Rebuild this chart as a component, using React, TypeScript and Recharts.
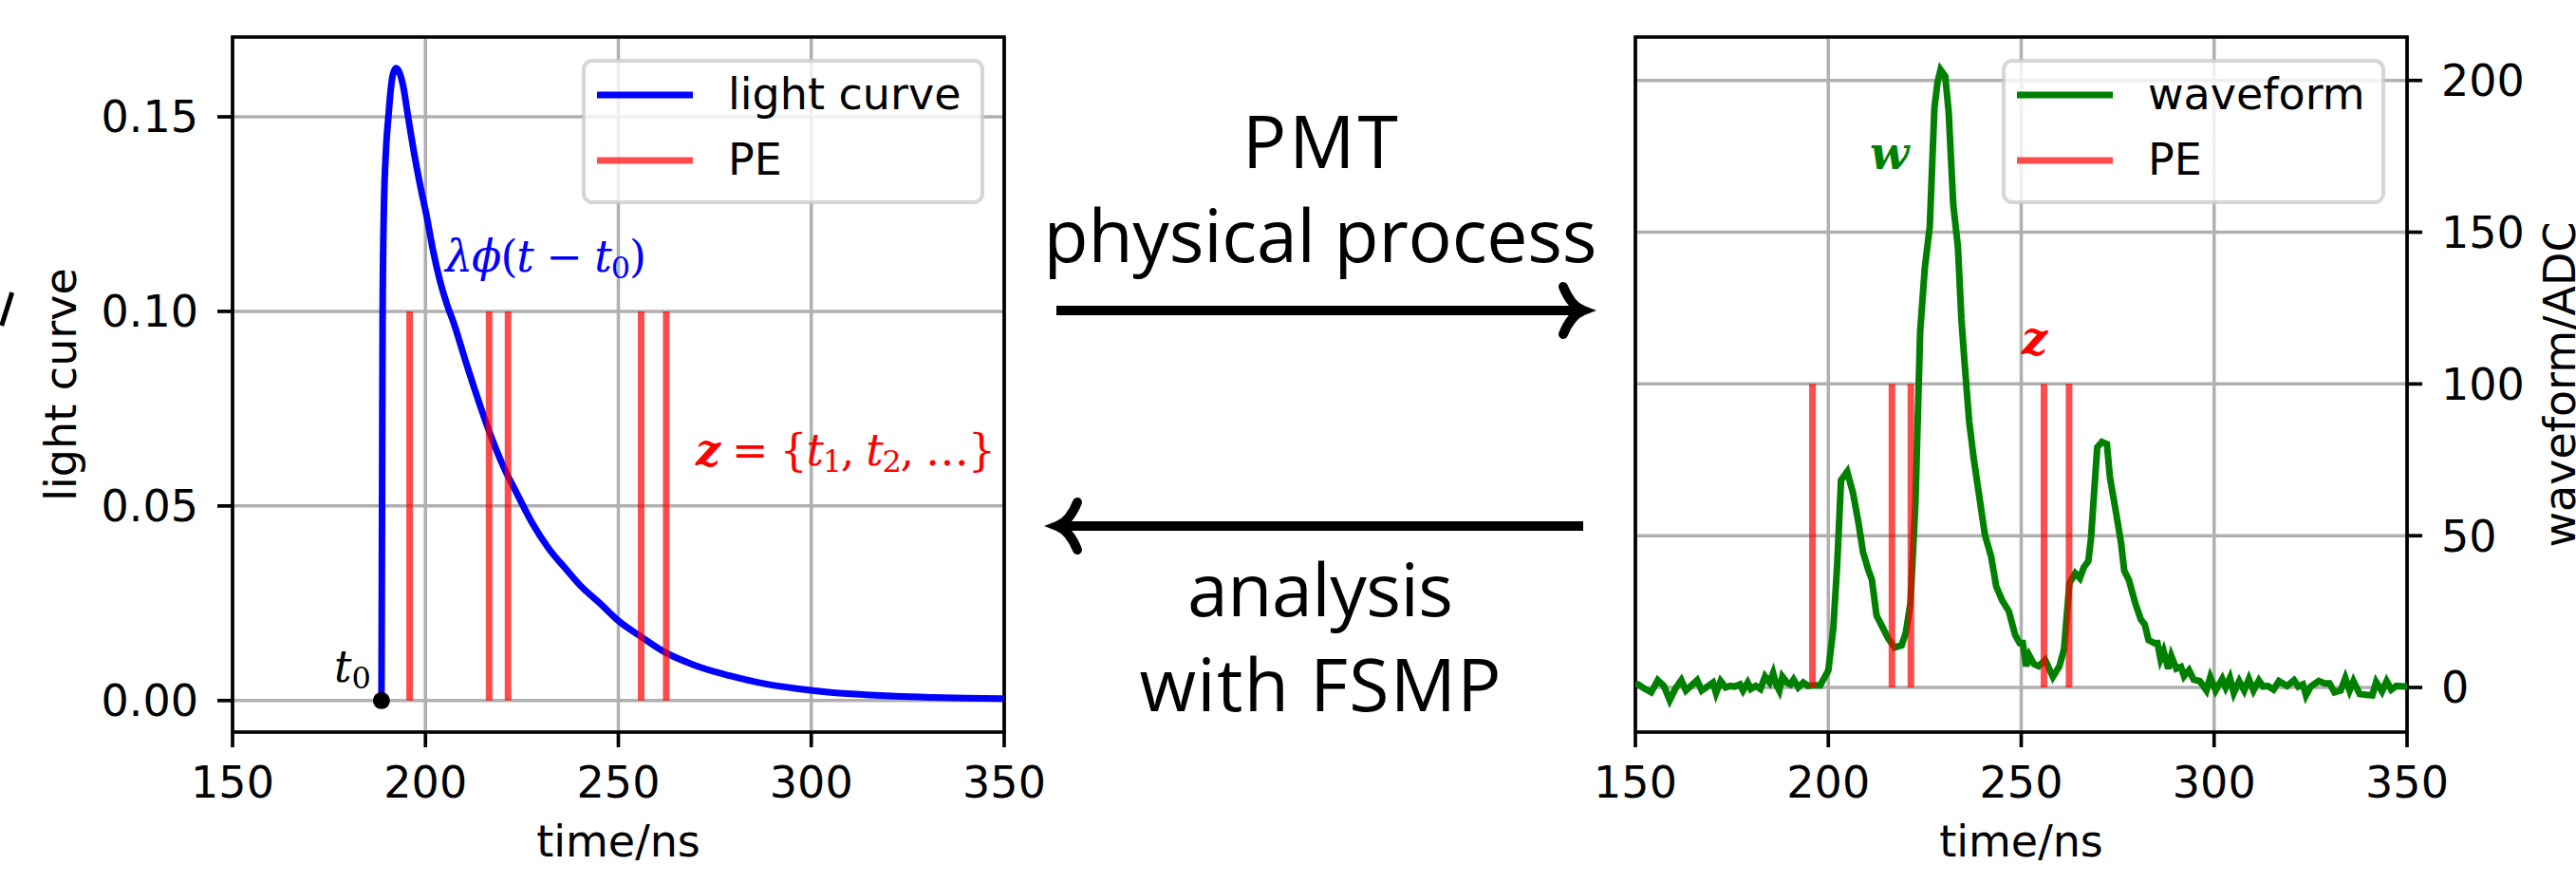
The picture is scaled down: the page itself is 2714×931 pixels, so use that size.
import React from 'react';
import {
  ComposedChart,
  Line,
  XAxis,
  YAxis,
  CartesianGrid,
  Legend,
  ReferenceArea,
  ReferenceDot,
} from 'recharts';

const timeTicks = [150, 200, 250, 300, 350];
const lightTicks = [0, 0.05, 0.1, 0.15];
const adcTicks = [0, 50, 100, 150, 200];

// PE arrival times (ns), shared by both panels
const peTimes = [195.9, 216.5, 221.4, 255.9, 262.4];
const t0 = 188.6;

// light curve
const lightT = [
  188.6, 188.75, 188.9, 189.2, 189.8, 190.4, 191.0, 191.6, 192.4, 193.2,
  194.2, 195.5, 197.0, 198.5, 200.4, 202.0, 203.8, 205.5, 207.3, 210.6,
  214.1, 217.0, 220.4, 223.5, 227.8, 232.0, 236.4, 240.5, 245.1, 250.0,
  255.9, 262.3, 270.0, 279.6, 288.0, 296.8, 305.0, 314.1, 322.0, 331.4,
  340.0, 350.0,
];
const lightV = [
  0, 0.05, 0.1, 0.125, 0.142, 0.15, 0.157, 0.161, 0.1625, 0.1615,
  0.158, 0.15, 0.141, 0.133, 0.124, 0.1155, 0.1077, 0.102, 0.0971, 0.0866,
  0.076, 0.0679, 0.0597, 0.0536, 0.0454, 0.039, 0.0338, 0.0292, 0.0251, 0.0205,
  0.0164, 0.0123, 0.009, 0.0062, 0.0043, 0.003, 0.0021, 0.0015, 0.0011, 0.0008,
  0.0006, 0.0005,
];

// waveform (ADC)
const waveT = [
  150.0, 150.7, 152.5, 154.1, 155.8, 157.4, 158.9, 160.3, 161.9, 163.1,
  164.4, 166.0, 167.2, 168.9, 170.1, 170.9, 172.1, 173.4, 174.6, 175.8,
  177.1, 177.9, 179.1, 179.9, 181.2, 182.4, 183.6, 184.8, 185.7, 186.5,
  187.3, 188.1, 189.3, 190.2, 191.0, 192.2, 193.5, 194.7, 195.9, 197.9,
  200.0, 201.3, 202.3, 203.3, 204.9, 206.4, 207.8, 209.0, 210.3, 211.3,
  212.5, 213.9, 215.6, 217.2, 219.0, 220.1, 221.3, 222.6, 223.8, 225.0,
  226.3, 227.5, 228.3, 229.1, 230.3, 231.2, 232.4, 233.6, 234.5, 235.3,
  236.5, 237.7, 239.0, 240.6, 242.2, 243.5, 245.1, 246.8, 248.4, 249.6,
  250.4, 251.3, 252.1, 253.3, 254.5, 256.2, 258.2, 259.9, 261.1, 262.5,
  264.0, 265.2, 266.2, 267.4, 268.1, 269.7, 270.9, 272.2, 273.0, 274.7,
  275.9, 276.7, 277.9, 279.6, 281.0, 282.0, 283.0, 284.5, 285.3, 286.1,
  286.9, 288.1, 288.9, 290.2, 291.4, 292.2, 293.5, 294.7, 296.3, 298.0,
  299.0, 300.4, 302.1, 303.0, 304.1, 305.1, 306.5, 307.8, 309.0, 310.2,
  311.6, 312.7, 313.9, 315.4, 316.8, 318.9, 320.7, 321.8, 323.0, 323.8,
  325.0, 327.1, 328.7, 329.9, 331.2, 332.8, 334.0, 335.1, 336.1, 337.7,
  339.4, 341.0, 342.0, 343.5, 344.7, 345.9, 347.2, 349.6, 350.0,
];
const waveV = [
  1.2, 1.0, -0.5, -1.6, 2.4, 0.5, -4.2, -0.5, 2.4, -1.0,
  0.5, 2.4, -1.0, 0.5, 1.6, -1.9, 2.1, 0, 0.5, 0.3,
  1.0, -1.0, 1.6, -0.5, 0.5, -0.5, 3.6, 1.6, 4.7, 1.0,
  -1.0, 3.6, 1.6, 1.0, 2.6, 0, 1.6, 0.5, 0.7, 0.7,
  5.6, 19.5, 40.4, 68.3, 71.1, 64.1, 54.4, 44.6, 39.0, 35.5,
  23.7, 20.2, 16.0, 13.2, 13.9, 18.1, 27.9, 61.3, 117.1, 138.0,
  151.9, 190.9, 199.3, 203.5, 201.4, 189.6, 158.9, 145.0, 121.3, 107.3,
  87.8, 75.3, 64.1, 50.2, 43.2, 33.4, 28.6, 25.1, 17.4, 14.6,
  14.6, 7.0, 10.5, 7.7, 7.0, 9.1, 3.5, 7.0, 12.6, 34.3,
  37.6, 36.0, 39.5, 41.6, 49.4, 79.1, 80.9, 80.2, 69.2, 56.7,
  47.4, 38.5, 35.4, 27.6, 22.4, 20.8, 15.6, 14.6, 14.6, 9.4,
  12.0, 6.2, 10.4, 6.2, 6.8, 3.7, 5.7, 2.6, 2.1, -1.0,
  3.4, -1.0, 2.8, 0, 3.1, -1.8, 2.1, -1.0, 2.8, -1.0,
  2.3, 0.3, 0.5, -0.7, 2.1, 0.5, 2.4, 0.3, 1.0, -2.6,
  0.3, 2.1, 1.3, 1.3, -1.6, -1.0, 3.1, -1.0, 2.1, -2.1,
  -2.4, -2.6, 1.8, -1.3, 2.1, -0.7, 0.5, 0.3, 0.3,
];

const lightDomain: [number, number] = [-0.0081, 0.1705];
const adcDomain: [number, number] = [-14.7, 214.3];

const lightRows = lightT.map((t, i) => ({ t, v: lightV[i] }));
const waveRows = waveT.map((t, i) => ({ t, v: waveV[i] }));
// each PE is a vertical stick from 0 to `top`; nulls break the path
const peRows = (top: number) =>
  peTimes.flatMap((t) => [{ t, v: 0 }, { t, v: top }, { t, v: null }]);

const INK = '#000';
const GRID = '#b0b0b0';
const FONT = 46;
const SPINE = 3.7;

const tickLine = { stroke: INK, strokeWidth: SPINE };
const tickText = { fill: INK, fontSize: FONT };

function sideLabel(text: string, baseX: number) {
  return (props: any) => {
    const vb = props.viewBox || {};
    const cy = (vb.y ?? 39) + (vb.height ?? 732) / 2;
    return (
      <text
        x={baseX}
        y={cy}
        transform={`rotate(-90 ${baseX} ${cy})`}
        textAnchor="middle"
        fontSize={FONT}
        fill={INK}
      >
        {text}
      </text>
    );
  };
}

function boxLegend(width: number) {
  return (props: any) => {
    const seen = new Set<string>();
    const items = (props.payload || [])
      .filter((e: any) => {
        if (e.type === 'none' || seen.has(e.value)) return false;
        seen.add(e.value);
        return true;
      })
      // matplotlib keeps plotting order: the curve first, PE after it
      .sort((a: any, b: any) => (a.value === 'PE' ? 1 : 0) - (b.value === 'PE' ? 1 : 0));
    return (
      <svg width={width} height={153} style={{ display: 'block' }}>
        <rect
          x={2}
          y={2}
          width={width - 4}
          height={149}
          rx={9}
          fill="#fff"
          fillOpacity={0.8}
          stroke="#cccccc"
          strokeOpacity={0.8}
          strokeWidth={4}
        />
        {items.map((e: any, i: number) => (
          <g key={e.value}>
            <line
              x1={16}
              x2={117}
              y1={38 + i * 69}
              y2={38 + i * 69}
              stroke={e.color}
              strokeOpacity={e.value === 'PE' ? 0.7 : 1}
              strokeWidth={7}
            />
            <text x={154} y={53 + i * 69} fontSize={FONT} fill={INK}>
              {e.value}
            </text>
          </g>
        ))}
      </svg>
    );
  };
}

function LightPanel() {
  return (
    <ComposedChart width={1120} height={931} margin={{ top: 39, right: 62, bottom: 0, left: 0 }}>
      <CartesianGrid stroke={GRID} strokeWidth={3.5} />
      <XAxis
        type="number"
        dataKey="t"
        domain={[150, 350]}
        ticks={timeTicks}
        interval={0}
        allowDataOverflow
        height={160}
        axisLine={false}
        tickSize={16}
        tickMargin={20}
        tickLine={tickLine}
        tick={tickText}
        label={{ value: 'time/ns', position: 'insideBottom', offset: 29, fill: INK, fontSize: FONT }}
      />
      <YAxis
        type="number"
        domain={lightDomain}
        ticks={lightTicks}
        interval={0}
        allowDataOverflow
        width={245}
        axisLine={false}
        tickSize={16}
        tickMargin={20}
        tickLine={tickLine}
        tick={tickText}
        tickFormatter={(v: number) => v.toFixed(2)}
        label={{ content: sideLabel('light curve', 80) }}
      />
      <Line
        data={lightRows}
        dataKey="v"
        name="light curve"
        type="monotone"
        stroke="#0000ff"
        strokeWidth={7}
        dot={false}
        activeDot={false}
        isAnimationActive={false}
      />
      <Line
        data={peRows(0.1)}
        dataKey="v"
        name="PE"
        stroke="#ff0000"
        strokeOpacity={0.7}
        strokeWidth={7}
        dot={false}
        activeDot={false}
        isAnimationActive={false}
      />
      <ReferenceDot x={t0} y={0} r={9} fill={INK} stroke="none" ifOverflow="visible" />
      <ReferenceArea
        x1={150}
        x2={350}
        y1={lightDomain[0]}
        y2={lightDomain[1]}
        fill="none"
        stroke={INK}
        strokeWidth={SPINE}
        ifOverflow="visible"
      />
      <Legend
        layout="horizontal"
        verticalAlign="middle"
        align="center"
        content={boxLegend(424)}
        wrapperStyle={{ left: 613, top: 62, width: 424, height: 153 }}
      />
    </ComposedChart>
  );
}

function WavePanel() {
  return (
    <ComposedChart width={1064} height={931} margin={{ top: 39, right: 0, bottom: 0, left: 73 }}>
      <CartesianGrid stroke={GRID} strokeWidth={3.5} />
      <XAxis
        type="number"
        dataKey="t"
        domain={[150, 350]}
        ticks={timeTicks}
        interval={0}
        allowDataOverflow
        height={160}
        axisLine={false}
        tickSize={16}
        tickMargin={20}
        tickLine={tickLine}
        tick={tickText}
        label={{ value: 'time/ns', position: 'insideBottom', offset: 29, fill: INK, fontSize: FONT }}
      />
      <YAxis
        type="number"
        orientation="right"
        domain={adcDomain}
        ticks={adcTicks}
        interval={0}
        allowDataOverflow
        width={178}
        axisLine={false}
        tickSize={16}
        tickMargin={20}
        tickLine={tickLine}
        tick={tickText}
        label={{ content: sideLabel('waveform/ADC', 1063) }}
      />
      <Line
        data={waveRows}
        dataKey="v"
        name="waveform"
        stroke="#008000"
        strokeWidth={7}
        dot={false}
        activeDot={false}
        isAnimationActive={false}
      />
      <Line
        data={peRows(100)}
        dataKey="v"
        name="PE"
        stroke="#ff0000"
        strokeOpacity={0.7}
        strokeWidth={7}
        dot={false}
        activeDot={false}
        isAnimationActive={false}
      />
      <ReferenceArea
        x1={150}
        x2={350}
        y1={adcDomain[0]}
        y2={adcDomain[1]}
        fill="none"
        stroke={INK}
        strokeWidth={SPINE}
        ifOverflow="visible"
      />
      <Legend
        layout="horizontal"
        verticalAlign="middle"
        align="center"
        content={boxLegend(404)}
        wrapperStyle={{ left: 459, top: 62, width: 404, height: 153 }}
      />
    </ComposedChart>
  );
}

function Annotations() {
  const mid = 1391;
  const big = {
    fontFamily: '"Open Sans", sans-serif',
    fontSize: 77,
    fill: INK,
    textAnchor: 'middle' as const,
    lengthAdjust: 'spacing',
  };
  const serif = '"DejaVu Serif", serif';
  return (
    <svg
      width={2714}
      height={931}
      style={{ position: 'absolute', left: 0, top: 0, pointerEvents: 'none' }}
    >
      <text x={mid} y={177} {...big} textLength={164}>PMT</text>
      <text x={mid} y={276} {...big} textLength={583}>physical process</text>
      <text x={mid} y={649} {...big} textLength={280}>analysis</text>
      <text x={mid} y={749} {...big} textLength={381}>with FSMP</text>

      <g stroke={INK} strokeWidth={10} fill="none">
        <line x1={1113} y1={327} x2={1664} y2={327} />
        <path d="M1647,302 Q1655,322 1668,327 Q1655,332 1647,352" strokeLinecap="round" />
        <line x1={1118} y1={554} x2={1668} y2={554} />
        <path d="M1135,529 Q1127,549 1114,554 Q1127,559 1135,579" strokeLinecap="round" />
      </g>

      <line x1={12.7} y1={308} x2={1.7} y2={343} stroke={INK} strokeWidth={5} />

      <text x={469} y={286} fontFamily={serif} fontSize={FONT} fill="#0000ff" textLength={212}>
        <tspan fontStyle="italic">λϕ</tspan>(<tspan fontStyle="italic">t</tspan> − <tspan fontStyle="italic">t</tspan>
        <tspan dy={7} fontSize={32}>0</tspan>
        <tspan dy={-7}>)</tspan>
      </text>
      <text x={733} y={490} fontFamily={serif} fontSize={FONT} fill="#ff0000" textLength={316}>
        <tspan fontStyle="italic" fontWeight="bold">z</tspan> = {'{'}
        <tspan fontStyle="italic">t</tspan>
        <tspan dy={7} fontSize={32}>1</tspan>
        <tspan dy={-7}>, </tspan>
        <tspan fontStyle="italic">t</tspan>
        <tspan dy={7} fontSize={32}>2</tspan>
        <tspan dy={-7}>, …{'}'}</tspan>
      </text>
      <text x={352} y={718} fontFamily={serif} fontSize={FONT} fill={INK}>
        <tspan fontStyle="italic">t</tspan>
        <tspan dy={7} fontSize={32}>0</tspan>
      </text>

      <text x={1970} y={178} fontFamily={serif} fontSize={48} fontStyle="italic" fontWeight="bold" fill="#008000">
        w
      </text>
      <text x={2130} y={373} fontFamily={serif} fontSize={48} fontStyle="italic" fontWeight="bold" fill="#ff0000">
        z
      </text>
    </svg>
  );
}

export default function App() {
  return (
    <div
      style={{
        position: 'absolute',
        left: 0,
        top: 0,
        width: 2714,
        height: 931,
        background: '#fff',
        overflow: 'hidden',
        fontFamily: '"DejaVu Sans", sans-serif',
      }}
    >
      <div style={{ position: 'absolute', left: 0, top: 0 }}>
        <LightPanel />
      </div>
      <div style={{ position: 'absolute', left: 1650, top: 0 }}>
        <WavePanel />
      </div>
      <Annotations />
    </div>
  );
}
